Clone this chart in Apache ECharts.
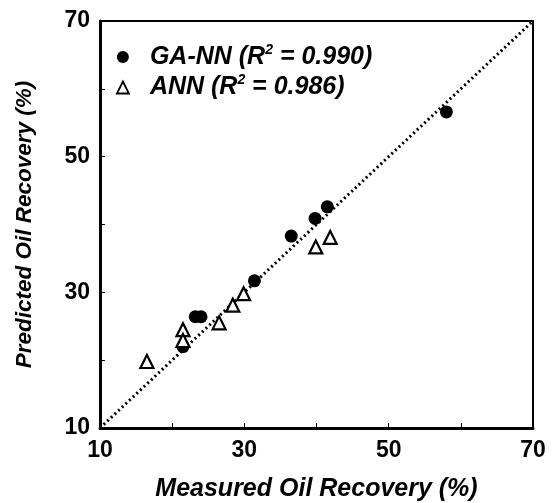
<!DOCTYPE html>
<html>
<head>
<meta charset="utf-8">
<script src="https://cdn.jsdelivr.net/npm/echarts@6/dist/echarts.min.js"></script>
<style>
  html, body { margin: 0; padding: 0; background: #fff; }
  #chart { width: 554px; height: 503px; }
</style>
</head>
<body>
<div id="chart"></div>
<script>
// Measured vs. predicted oil recovery (%)
const gannMeasured = [58.0, 36.5, 39.8, 41.5, 31.4, 23.2, 24.0, 21.5];
const gannPredicted = [56.6, 38.3, 40.9, 42.6, 31.7, 26.4, 26.4, 22.0];

const annMeasured = [39.9, 41.9, 29.9, 28.4, 26.5, 21.5, 21.5, 16.5];
const annPredicted = [36.7, 38.1, 29.8, 28.1, 25.5, 24.5, 22.9, 19.8];

const axisTicks = [10, 30, 50, 70];
const parityLine = [[10, 10], [70, 70]];

const FONT = '"Liberation Sans", Arial, Helvetica, sans-serif';

const pairs = (xs, ys) => xs.map((x, i) => [x, ys[i]]);

const chart = echarts.init(document.getElementById('chart'), null, { renderer: 'canvas' });

const axisCommon = {
  min: axisTicks[0],
  max: axisTicks[axisTicks.length - 1],
  interval: 10,
  axisLine: { show: true, onZero: false, lineStyle: { color: '#000', width: 3 } },
  axisTick: { show: true, inside: true, length: 5, lineStyle: { color: '#000', width: 1 } },
  splitLine: { show: false },
  nameLocation: 'middle',
  axisLabel: {
    fontFamily: FONT, fontWeight: 'bold', fontSize: 23, color: '#000',
    formatter: v => (axisTicks.indexOf(v) >= 0 ? String(v) : '')
  }
};

const titleStyle = size => ({
  fontFamily: FONT, fontWeight: 'bold', fontStyle: 'italic', fontSize: size, color: '#000'
});

chart.setOption({
  animation: false,
  backgroundColor: '#fff',
  grid: {
    left: 100, right: 21, top: 21, bottom: 75,
    containLabel: false,
    outerBoundsMode: 'none',
    show: true, borderColor: '#000', borderWidth: 2, backgroundColor: 'transparent'
  },
  xAxis: Object.assign({}, axisCommon, {
    type: 'value',
    name: 'Measured Oil Recovery (%)',
    nameGap: 49,
    nameTextStyle: titleStyle(25),
    axisLabel: Object.assign({}, axisCommon.axisLabel, { margin: 11 })
  }),
  yAxis: Object.assign({}, axisCommon, {
    type: 'value',
    name: 'Predicted Oil Recovery (%)',
    nameGap: 64,
    nameTextStyle: titleStyle(22.5),
    axisLabel: Object.assign({}, axisCommon.axisLabel, { margin: 10 })
  }),
  legend: {
    orient: 'vertical',
    left: 111,
    top: 38,
    itemGap: 4,
    itemWidth: 12,
    itemHeight: 12,
    data: [
      { name: 'GA-NN', icon: 'circle', itemStyle: { color: '#000', opacity: 1 } },
      { name: 'ANN', icon: 'triangle', itemStyle: { color: '#fff', borderColor: '#000', borderWidth: 1.8, opacity: 1 } }
    ],
    formatter: name => name === 'GA-NN'
      ? '{t|GA-NN (R}{s|2}{t| = 0.990)}'
      : '{t|ANN (R}{s|2}{t| = 0.986)}',
    textStyle: {
      rich: {
        t: Object.assign(titleStyle(25), { lineHeight: 28 }),
        s: Object.assign(titleStyle(14), { verticalAlign: 'top', lineHeight: 28, padding: [0, 0, 12, 0] })
      },
      padding: [0, 0, 0, 16]
    }
  },
  series: [
    {
      name: 'Parity',
      type: 'line',
      data: parityLine,
      symbol: 'none',
      silent: true,
      lineStyle: { color: '#000', width: 3, type: [2, 3] },
      z: 1
    },
    {
      name: 'GA-NN',
      type: 'scatter',
      data: pairs(gannMeasured, gannPredicted),
      symbol: 'circle',
      symbolSize: 13,
      itemStyle: { color: '#000', opacity: 1 },
      z: 3
    },
    {
      name: 'ANN',
      type: 'scatter',
      data: pairs(annMeasured, annPredicted),
      symbol: 'triangle',
      symbolSize: 13,
      itemStyle: { color: '#fff', borderColor: '#000', borderWidth: 2.2, opacity: 1 },
      z: 4
    }
  ]
});
</script>
</body>
</html>
